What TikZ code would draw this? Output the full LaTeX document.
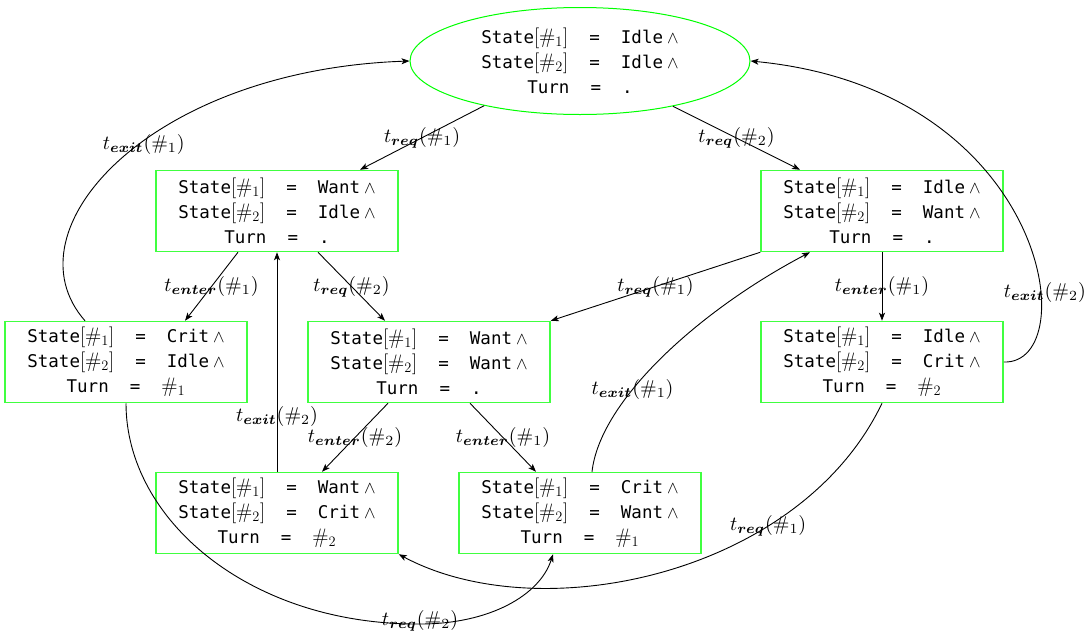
\documentclass[tikz,border=0pt]{standalone}
\usepackage{amsmath}
\usepackage{graphicx}
\usepackage{fontspec}
\newfontfamily\statefont{DejaVu Sans Mono}
\usetikzlibrary{shapes.geometric,arrows.meta}
\newcommand\mm[1]{\scalebox{1.2}{$#1$}}
\newcommand\stxt[3]{State\mm{[\#_1]}\ \ =\ \ #1\hspace{4pt}$\wedge$\\State\mm{[\#_2]}\ \ =\ \ #2\hspace{4pt}$\wedge$\\Turn\ \ =\ \ #3}
\newcommand\edgelab[2]{\scalebox{2.0}{$t_{\boldsymbol{#1}}(\#_{#2})$}}
\tikzset{
  st/.style={draw=green!75, line width=1.5pt, minimum width=242pt, minimum height=81pt, inner sep=0pt, align=center, font=\statefont\fontsize{17.5}{25}\selectfont},
  ell/.style={draw=green, line width=1pt, ellipse, minimum width=340pt, minimum height=107pt, inner sep=0pt, align=center, font=\statefont\fontsize{17.5}{25}\selectfont},
  lab/.style={inner sep=0pt},
  arr/.style={line width=0.9pt, -{Stealth[length=8pt,width=6pt,inset=2pt]}},
}
\begin{document}
\begin{tikzpicture}[x=1pt,y=-1pt]
\useasboundingbox (0,0) rectangle (1087,635);
\node[ell] (E) at (580,61) {\stxt{Idle}{Idle}{.}};
\node[st] (A) at (277,211) {\stxt{Want}{Idle}{.}};
\node[st] (B) at (882,211) {\stxt{Idle}{Want}{.}};
\node[st] (C) at (126,362) {\stxt{Crit}{Idle}{\mm{\#_1}}};
\node[st] (D) at (429,362) {\stxt{Want}{Want}{.}};
\node[st] (F) at (882,362) {\stxt{Idle}{Crit}{\mm{\#_2}}};
\node[st] (G) at (277,513) {\stxt{Want}{Crit}{\mm{\#_2}}};
\node[st] (H) at (580,513) {\stxt{Crit}{Want}{\mm{\#_1}}};

\draw[arr] (E.205.5) -- node[lab]{\edgelab{req}{1}} ([xshift=83pt]A.north);
\draw[arr] (E.334.5) -- node[lab]{\edgelab{req}{2}} ([xshift=-82pt]B.north);
\draw[arr] ([xshift=-39pt]A.south) -- node[lab]{\edgelab{enter}{1}} ([xshift=59pt]C.north);
\draw[arr] ([xshift=41pt]A.south) -- node[lab]{\edgelab{req}{2}} ([xshift=-44pt]D.north);
\draw[arr] (B.south west) -- node[lab]{\edgelab{req}{1}} (D.north east);
\draw[arr] (B.south) -- node[lab]{\edgelab{enter}{1}} (F.north);
\draw[arr] ([xshift=-41pt]D.south) -- node[lab]{\edgelab{enter}{2}} ([xshift=45pt]G.north);
\draw[arr] ([xshift=41pt]D.south) -- node[lab]{\edgelab{enter}{1}} ([xshift=-44pt]H.north);
\draw[arr] (G.north) -- node[lab,pos=0.25]{\edgelab{exit}{2}} (A.south);
\draw[arr] ([xshift=12pt]H.north) .. controls (600,400) and (700,310) .. node[lab,pos=0.36]{\edgelab{exit}{1}} ([xshift=-72pt]B.south);
\draw[arr] ([xshift=-41pt]C.north) .. controls (5,230) and (150,70) .. node[lab,pos=0.55,xshift=5pt]{\edgelab{exit}{1}} (E.west);
\draw[arr] (F.east) .. controls (1085,365) and (1050,90) .. node[lab,pos=0.33,xshift=4pt]{\edgelab{exit}{2}} (E.east);
\draw[arr] (C.south) .. controls (126,520) and (250,625) .. node[lab,pos=1,yshift=3pt]{\edgelab{req}{2}} (420,624) .. controls (490,624) and (540,595) .. ([xshift=-27pt]H.south);
\draw[arr] (F.south) .. controls (800,575) and (540,630) .. node[lab,pos=0.3]{\edgelab{req}{1}} (G.south east);
\end{tikzpicture}
\end{document}
